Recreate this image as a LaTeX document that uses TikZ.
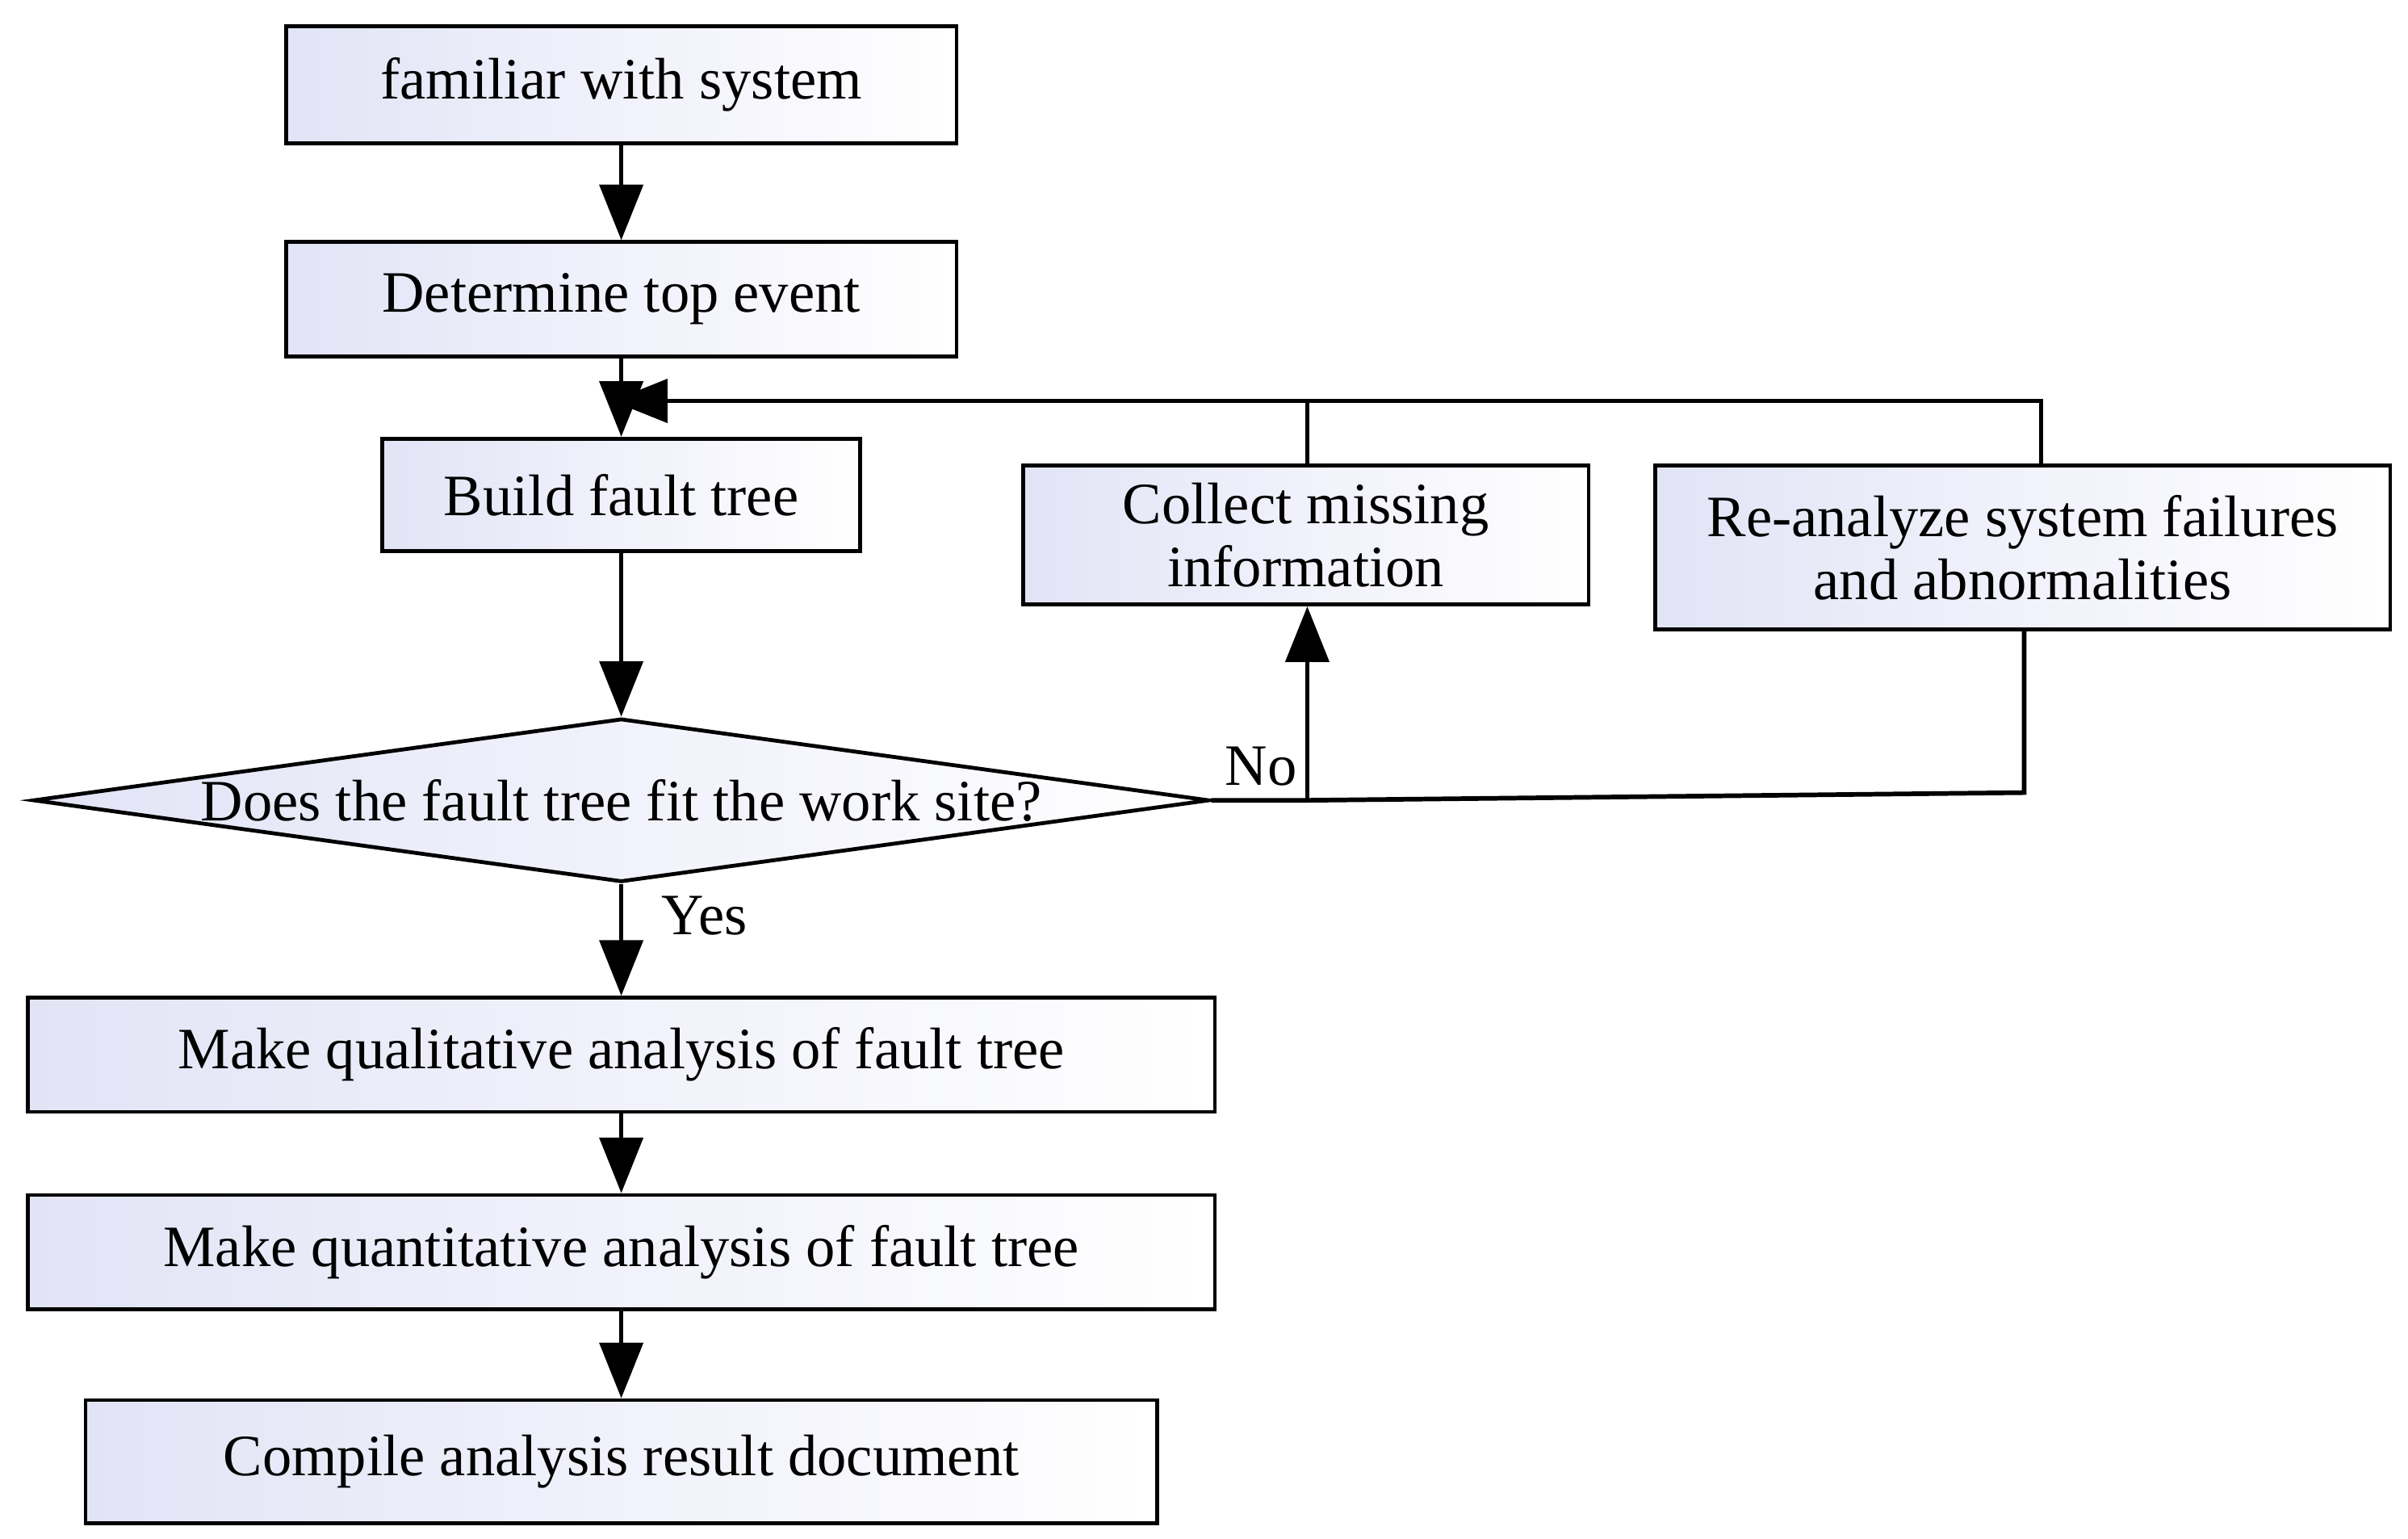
\documentclass[tikz,border=0pt]{standalone}
\usepackage{fontspec}
\setmainfont{Liberation Serif}
\usetikzlibrary{arrows.meta,shapes.geometric}
\definecolor{lav}{RGB}{226,228,246}
\begin{document}
\begin{tikzpicture}[x=1pt,y=-1pt,
  txt/.style={font=\fontsize{38}{41}\selectfont},
  box/.style={draw,line width=2.5pt,left color=lav,right color=white,align=center,inner sep=0pt,txt},
  ar/.style={line width=3pt,-{Triangle[length=36pt,width=28pt]}},
  ln/.style={line width=3pt}]
\useasboundingbox (0,0) rectangle (1562,998);
\node[box,minimum width=435pt,minimum height=76pt] (b1) at (403,55) {familiar with system};
\node[box,minimum width=435pt,minimum height=74pt] (b2) at (403,194) {Determine top event};
\node[box,minimum width=310pt,minimum height=73pt] (b3) at (403,321) {Build fault tree};
\node[box,minimum width=367pt,minimum height=90pt] (c) at (847,347) {Collect missing\\information};
\node[box,minimum width=477pt,minimum height=106pt] (r) at (1312,355) {Re-analyze system failures\\and abnormalities};
\node[diamond,draw,line width=2.5pt,left color=lav,right color=white,aspect=7.2,minimum width=763pt,minimum height=106pt,inner sep=0pt] (d) at (403,519) {};
\node[txt] at (403,519) {Does the fault tree fit the work site?};
\node[box,minimum width=770pt,minimum height=74pt] (q1) at (403,684) {Make qualitative analysis of fault tree};
\node[box,minimum width=770pt,minimum height=74pt] (q2) at (403,812) {Make quantitative analysis of fault tree};
\node[box,minimum width=695pt,minimum height=80pt] (q3) at (403,948) {Compile analysis result document};
\coordinate (t) at (397,260);
\coordinate (rt) at (1324,260);
\coordinate (ct) at (848,260);
\coordinate (nj) at (848,519);
\coordinate (rb) at (1313,514);
\draw[ar] (b1) -- (b2);
\draw[ar] (b2) -- (b3);
\draw[ar] (b3) -- (d.north);
\draw[ar] (d.south) -- (q1);
\draw[ar] (q1) -- (q2);
\draw[ar] (q2) -- (q3);
\draw[ln] (r.north -| rt) -- (rt) -- (ct);
\draw[ln] (c.north -| ct) -- (ct);
\draw[ar] (ct) -- (t);
\draw[ln] (d.east) -- (nj) -- (rb) -- (r.south -| rb);
\draw[ar] (nj) -- (c.south -| nj);
\node[txt] at (818,497) {No};
\node[txt] at (457,594) {Yes};
\end{tikzpicture}
\end{document}
